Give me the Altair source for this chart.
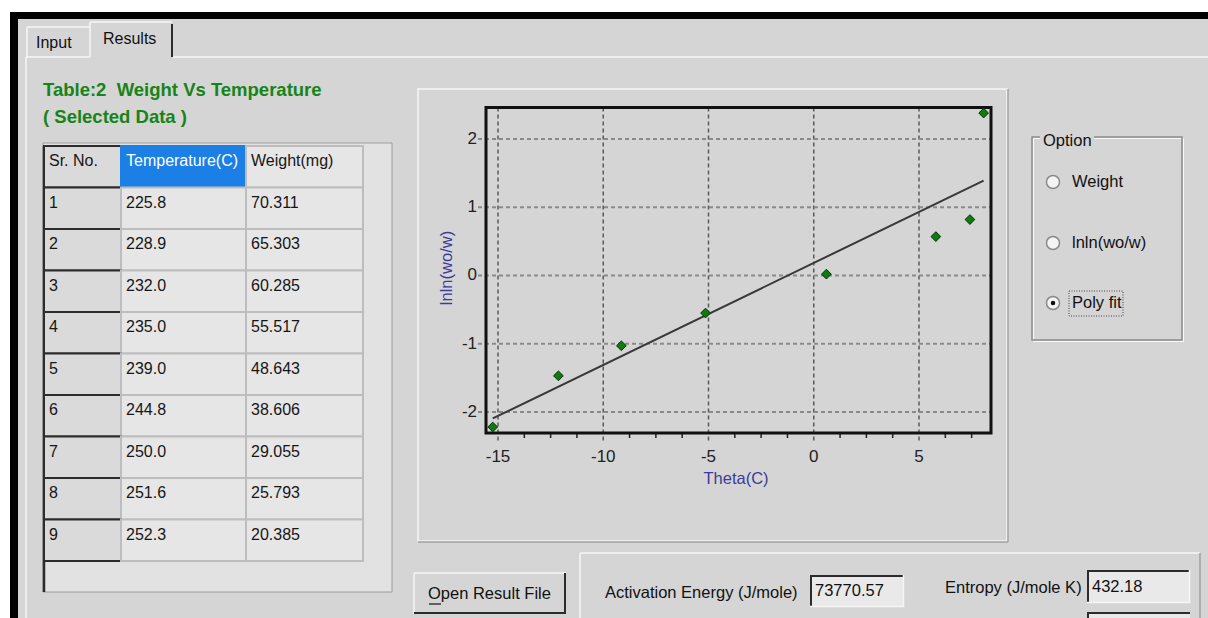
import altair as alt
import pandas as pd

# ---------------- data ----------------
sr_no = [1, 2, 3, 4, 5, 6, 7, 8, 9]
temperature = ["225.8", "228.9", "232.0", "235.0", "239.0", "244.8", "250.0", "251.6", "252.3"]
weight = ["70.311", "65.303", "60.285", "55.517", "48.643", "38.606", "29.055", "25.793", "20.385"]
table_columns = ["Sr. No.", "Temperature(C)", "Weight(mg)"]

theta = [-15.25, -12.13, -9.14, -5.14, 0.60, 5.80, 7.42, 8.07]
lnln = [-2.22, -1.47, -1.03, -0.55, 0.02, 0.57, 0.82, 2.38]
x_ticks = [-15, -10, -5, 0, 5]
x_tick_labels = ["-15", "-10", "-5", "0", "5"]
y_ticks = [-2, -1, 0, 1, 2]
y_tick_labels = ["-2", "-1", "0", "1", "2"]

options = ["Weight", "lnln(wo/w)", "Poly fit"]
selected_option = "Poly fit"
activation_energy = "73770.57"
entropy = "432.18"

# ---------------- layout ----------------
W, H = 1208, 618
BG = "#d5d5d5"
CELL = "#e6e6e6"
LIGHT = "#f6f6f6"
DARK = "#2c2c2c"
FONT = "Liberation Sans"
NBSP = "\u00a0"

PX = alt.Scale(domain=[0, W], range=[0, W], nice=False, zero=False)
PY = alt.Scale(domain=[0, H], range=[0, H], nice=False, zero=False)
# plot area of the theta / lnln chart
XS = alt.Scale(domain=[-15.57, 8.42], range=[486, 991], nice=False, zero=False)
YS = alt.Scale(domain=[-2.3077, 2.4615], range=[433, 107.5], nice=False, zero=False)
# table rows (0 = header)
ROWS = alt.Scale(domain=[0, 10], range=[146, 561], nice=False, zero=False)
col_edges = {"Sr. No.": (44, 121), "Temperature(C)": (121, 246), "Weight(mg)": (246, 363)}


def boxes(rows, **kw):
    df = pd.DataFrame(rows, columns=["x0", "y0", "x1", "y1", "fill", "stroke", "sw"])
    return alt.Chart(df).mark_rect(**kw).encode(
        x=alt.X("x0:Q", scale=PX, axis=None), x2="x1:Q",
        y=alt.Y("y0:Q", scale=PY, axis=None), y2="y1:Q",
        fill=alt.Fill("fill:N", scale=None, legend=None),
        stroke=alt.Stroke("stroke:N", scale=None, legend=None),
        strokeWidth=alt.StrokeWidth("sw:Q", scale=None, legend=None),
    )


def lines(rows, **kw):
    df = pd.DataFrame(rows, columns=["x0", "y0", "x1", "y1", "c", "sw"])
    return alt.Chart(df).mark_rule(**kw).encode(
        x=alt.X("x0:Q", scale=PX, axis=None), x2="x1:Q",
        y=alt.Y("y0:Q", scale=PY, axis=None), y2="y1:Q",
        color=alt.Color("c:N", scale=None, legend=None),
        strokeWidth=alt.StrokeWidth("sw:Q", scale=None, legend=None),
    )


def texts(rows, **kw):
    df = pd.DataFrame(rows, columns=["x", "y", "t", "c"])
    opts = dict(font=FONT, fontSize=16.5, align="left", baseline="middle")
    opts.update(kw)
    return alt.Chart(df).mark_text(**opts).encode(
        x=alt.X("x:Q", scale=PX, axis=None),
        y=alt.Y("y:Q", scale=PY, axis=None),
        text="t:N",
        color=alt.Color("c:N", scale=None, legend=None),
    )


layers = []

# window frame and tabs
layers.append(boxes([
    (10, 12, W, H, "#000000", "transparent", 0),
    (18, 19, W, H, BG, "transparent", 0),
]))
layers.append(lines([
    (27, 27, 90, 27, LIGHT, 1.5), (27, 27, 27, 57, LIGHT, 1.5),
    (90, 22, 172, 22, LIGHT, 1.5), (90, 22, 90, 57, LIGHT, 1.5),
    (172, 24, 172, 57, DARK, 2),
    (26, 57, 90, 57, LIGHT, 1.5), (173, 57, W, 57, LIGHT, 1.5),
    (26, 57, 26, H, LIGHT, 1.5),
]))
layers.append(texts([(36, 43, "Input", "#111111"), (103, 39, "Results", "#111111")], fontSize=16))

# table title
layers.append(texts([
    (43, 90, "Table:2" + NBSP + NBSP + "Weight Vs Temperature", "#168416"),
    (43, 117, "( Selected Data )", "#168416"),
], fontWeight="bold", fontSize=18.5))

# grid control
layers.append(boxes([(43, 143, 392, 592, "#e2e2e2", "#9c9c9c", 1)]))
layers.append(lines([(44, 146, 44, 592, DARK, 2.5)]))

cells = []
for name in table_columns:
    cells.append({"row": 0, "col": name, "text": name})
for i in range(len(sr_no)):
    for name, vals in zip(table_columns, [sr_no, temperature, weight]):
        cells.append({"row": i + 1, "col": name, "text": str(vals[i])})
table = pd.DataFrame(cells)
table["x0"] = table["col"].map(lambda c: col_edges[c][0])
table["x1"] = table["col"].map(lambda c: col_edges[c][1])
table["tx"] = table["x0"] + 5
is_sr = table["col"] == "Sr. No."
is_hl = (table["row"] == 0) & (table["col"] == "Temperature(C)")
table["fill"] = CELL
table.loc[is_sr, "fill"] = "#dadada"
table.loc[is_hl, "fill"] = "#1b7fe6"
table["stroke"] = "#bdbdbd"
table.loc[is_sr, "stroke"] = DARK
table.loc[is_hl, "stroke"] = "#1b7fe6"
table["sw"] = 2.0
table["tc"] = "#161616"
table.loc[is_hl, "tc"] = "#ffffff"

layers.append(
    alt.Chart(table).transform_calculate(row_end="datum.row + 1").mark_rect().encode(
        x=alt.X("x0:Q", scale=PX, axis=None), x2="x1:Q",
        y=alt.Y("row:Q", scale=ROWS, axis=None), y2="row_end:Q",
        fill=alt.Fill("fill:N", scale=None, legend=None),
        stroke=alt.Stroke("stroke:N", scale=None, legend=None),
        strokeWidth=alt.StrokeWidth("sw:Q", scale=None, legend=None),
    )
)
layers.append(
    alt.Chart(table).transform_calculate(mid="datum.row + 0.37").mark_text(
        font=FONT, fontSize=16, align="left", baseline="middle"
    ).encode(
        x=alt.X("tx:Q", scale=PX, axis=None),
        y=alt.Y("mid:Q", scale=ROWS, axis=None),
        text="text:N",
        color=alt.Color("tc:N", scale=None, legend=None),
    )
)

# plot panel
layers.append(boxes([(418, 89, 1007, 541, "transparent", LIGHT, 1.5)]))
layers.append(lines([(1008, 89, 1008, 542, "#a2a2a2", 1.5), (418, 542, 1008, 542, "#a2a2a2", 1.5)]))

xt = pd.DataFrame({"v": x_ticks, "lab": x_tick_labels})
yt = pd.DataFrame({"v": y_ticks, "lab": y_tick_labels})
minor_x = pd.DataFrame({"v": [-15 + 1.25 * k for k in range(19) if k % 4 != 0 and -15 + 1.25 * k < 8.42]})

layers.append(alt.Chart(xt).mark_rule(color="#5a5a5a", strokeWidth=1.5, strokeDash=[4, 3]).encode(
    x=alt.X("v:Q", scale=XS, axis=None), y=alt.value(107.5), y2=alt.value(443)))
layers.append(alt.Chart(yt).mark_rule(color="#8a8a8a", strokeWidth=2, strokeDash=[4, 3]).encode(
    y=alt.Y("v:Q", scale=YS, axis=None), x=alt.value(478), x2=alt.value(991)))
layers.append(alt.Chart(minor_x).mark_rule(color="#222222", strokeWidth=1.5).encode(
    x=alt.X("v:Q", scale=XS, axis=None), y=alt.value(433), y2=alt.value(438)))

layers.append(boxes([(486, 107.5, 991, 433, "transparent", "#111111", 3)]))

plot_df = pd.DataFrame({"theta": theta, "lnln": lnln})
layers.append(
    alt.Chart(plot_df).transform_regression("theta", "lnln").mark_line(color="#383838", strokeWidth=2).encode(
        x=alt.X("theta:Q", scale=XS, axis=None),
        y=alt.Y("lnln:Q", scale=YS, axis=None),
    )
)
layers.append(
    alt.Chart(plot_df).mark_point(shape="diamond", filled=True, size=95, fill="#0f7a0f",
                                  stroke="#053205", strokeWidth=1, opacity=1).encode(
        x=alt.X("theta:Q", scale=XS, axis=None),
        y=alt.Y("lnln:Q", scale=YS, axis=None),
    )
)

# tick labels and axis titles
layers.append(alt.Chart(xt).mark_text(font=FONT, fontSize=17, color="#222222", baseline="middle").encode(
    x=alt.X("v:Q", scale=XS, axis=None), y=alt.value(457), text="lab:N"))
layers.append(alt.Chart(yt).mark_text(font=FONT, fontSize=17, color="#222222", align="right",
                                      baseline="middle").encode(
    y=alt.Y("v:Q", scale=YS, axis=None), x=alt.value(477), text="lab:N"))
layers.append(texts([(736, 479, "Theta(C)", "#3b3b9b")], align="center", fontSize=16.5))
layers.append(texts([(447, 268, "lnln(wo/w)", "#3b3b9b")], align="center", fontSize=16.5, angle=270))

# option group
layers.append(boxes([
    (1033.5, 138.5, 1183.5, 341.5, "transparent", "#fafafa", 1),
    (1032, 137, 1182, 340, "transparent", "#8c8c8c", 1.5),
    (1040, 130, 1094, 150, BG, "transparent", 0),
]))
layers.append(texts([(1043, 141, "Option", "#111111")]))
radio_y = [182, 243, 303]
radio = pd.DataFrame({"x": [1053] * 3, "y": radio_y, "label": options})
radio["lx"] = 1072
layers.append(alt.Chart(radio).mark_point(shape="circle", filled=True, size=170, fill="#f4f4f4",
                                          stroke="#8a8a8a", strokeWidth=1.5, opacity=1).encode(
    x=alt.X("x:Q", scale=PX, axis=None), y=alt.Y("y:Q", scale=PY, axis=None)))
layers.append(alt.Chart(radio).transform_filter(alt.datum.label == selected_option).mark_point(
    shape="circle", filled=True, size=20, color="#111111", opacity=1).encode(
    x=alt.X("x:Q", scale=PX, axis=None), y=alt.Y("y:Q", scale=PY, axis=None)))
layers.append(alt.Chart(radio).mark_text(font=FONT, fontSize=16.5, align="left", baseline="middle",
                                         color="#111111").encode(
    x=alt.X("lx:Q", scale=PX, axis=None), y=alt.Y("y:Q", scale=PY, axis=None), text="label:N"))
layers.append(boxes([(1069, 291, 1123, 316, "transparent", "#444444", 1)], strokeDash=[1, 1.5]))

# bottom button and result fields
layers.append(lines([
    (414, 573, 566, 573, LIGHT, 1.5), (414, 573, 414, 614, LIGHT, 1.5),
    (414, 613, 566, 613, DARK, 2), (565, 573, 565, 614, DARK, 2),
    (580, 553, 1200, 553, LIGHT, 1.5), (580, 553, 580, H, LIGHT, 1.5),
    (1200, 553, 1200, H, "#a0a0a0", 1.5),
    (429, 604, 441, 604, "#111111", 1.2),
]))
layers.append(texts([(428, 594, "Open Result File", "#111111")]))

layers.append(boxes([
    (810, 575, 904, 607, "#e9e9e9", "transparent", 0),
    (1087, 570, 1190, 603, "#e9e9e9", "transparent", 0),
    (1087, 612, 1190, H, "#e9e9e9", "transparent", 0),
]))
layers.append(lines([
    (810, 576, 904, 576, DARK, 2), (811, 575, 811, 607, DARK, 2),
    (810, 606.5, 904, 606.5, LIGHT, 1.5), (903.5, 575, 903.5, 607, LIGHT, 1.5),
    (1087, 571, 1190, 571, DARK, 2), (1088, 570, 1088, 603, DARK, 2),
    (1087, 602.5, 1190, 602.5, LIGHT, 1.5), (1189.5, 570, 1189.5, 603, LIGHT, 1.5),
    (1087, 613, 1190, 613, DARK, 2), (1088, 612, 1088, H, DARK, 2),
]))
layers.append(texts([
    (605, 593, "Activation Energy (J/mole)", "#111111"),
    (815, 591, activation_energy, "#111111"),
    (945, 588, "Entropy (J/mole K)", "#111111"),
    (1092, 587, entropy, "#111111"),
]))

chart = alt.layer(*layers).resolve_scale(x="independent", y="independent").properties(
    width=W, height=H, padding=0, autosize="none", background="white"
).configure_view(stroke=None)

chart.save("out.html", embed_options={"renderer": "svg", "actions": False})
